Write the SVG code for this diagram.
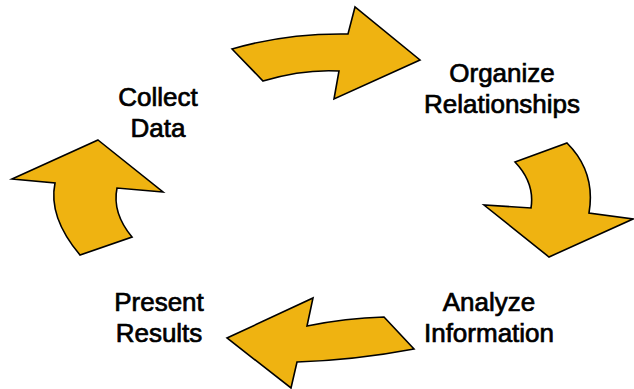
<svg xmlns="http://www.w3.org/2000/svg" width="634" height="389" viewBox="0 0 634 389">
<style>
.arrow{fill:#EFB311;stroke:#000;stroke-width:1.6;stroke-linejoin:miter}
.lbl{font-family:"Liberation Sans",Arial,sans-serif;font-size:26px;fill:#000;stroke:#000;stroke-width:0.7;text-anchor:middle}
</style>
<rect width="634" height="389" fill="#fff"/>
<g id="connectors">
<path id="arrow-top" class="arrow" d="M232,49 Q286,33 348,34 L355,7 L420,60 L334,99 L339,71 Q303,69 263,81 Z"/>
<path id="arrow-right" class="arrow" d="M515,162 L567,143 Q596,172 589,213 L633,219 L549,257 L484,205 L531,208 Q535,183 515,162 Z"/>
<path id="arrow-bottom" class="arrow" d="M384,317 L414,349 Q356,360 297,362 L291,388 L227,338 L313,298 L307,326 Q346,318 384,317 Z"/>
<path id="arrow-left" class="arrow" d="M98,140 L163,192 L117,188 Q112,213 132,237 L80,255 Q48,217 55,183 L12,179 Z"/>
</g>
<g id="node-collect">
<text class="lbl" x="158" y="106">Collect</text>
<text class="lbl" x="158" y="137">Data</text>
</g>
<g id="node-organize">
<text class="lbl" x="502" y="82">Organize</text>
<text class="lbl" x="502" y="113">Relationships</text>
</g>
<g id="node-analyze">
<text class="lbl" x="489" y="311">Analyze</text>
<text class="lbl" x="489" y="342">Information</text>
</g>
<g id="node-present">
<text class="lbl" x="159" y="311">Present</text>
<text class="lbl" x="159" y="342">Results</text>
</g>
</svg>
